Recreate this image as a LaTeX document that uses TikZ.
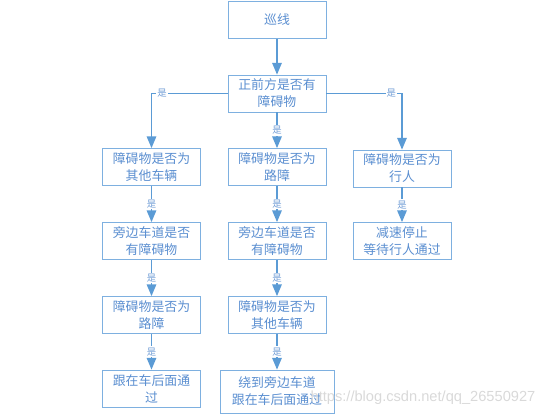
\documentclass[tikz,border=0pt]{standalone}
\usepackage{fontspec}
\newfontfamily\cjk{Noto Sans CJK SC}
\newfontfamily\marca{Liberation Sans}
\usetikzlibrary{arrows, positioning}
\definecolor{borde}{HTML}{7EB0E0}
\definecolor{letra}{HTML}{5A8ED0}
\definecolor{linea}{HTML}{5B9BD5}
\tikzstyle{paso} = [draw=borde, line width=0.8pt, rectangle, minimum width=2.94cm, minimum height=1.11cm, inner sep=2pt, text=letra, align=center, font=\cjk\fontsize{11}{14.5}\selectfont]
\tikzstyle{flecha} = [draw=linea, line width=1.3pt, -triangle 45]
\tikzstyle{si} = [fill=white, text=letra!85, inner sep=1pt, font=\cjk\fontsize{8}{9}\selectfont]

\begin{document}
\begin{tikzpicture}[x=0.03cm, y=-0.03cm]
	\useasboundingbox (0,0) rectangle (554,416);
	\node [paso] (xunxian) at (277,20) {巡线};
	\node [paso] (zhangai) at (277,93.5) {正前方是否有\\障碍物};
	\node [paso] (cheliang) at (151.5,167) {障碍物是否为\\其他车辆};
	\node [paso] (luzhang) at (277,167) {障碍物是否为\\路障};
	\node [paso] (xingren) at (402,168.5) {障碍物是否为\\行人};
	\node [paso] (pangbianA) at (151.5,241) {旁边车道是否\\有障碍物};
	\node [paso] (pangbianB) at (277,241) {旁边车道是否\\有障碍物};
	\node [paso] (tingzhi) at (402,241) {减速停止\\等待行人通过};
	\node [paso] (luzhangA) at (151.5,315) {障碍物是否为\\路障};
	\node [paso] (cheliangB) at (277,315) {障碍物是否为\\其他车辆};
	\node [paso] (genzhe) at (151.5,388.5) {跟在车后面通\\过};
	\node [paso, minimum width=3.42cm, minimum height=1.29cm] (raodao) at (277,391.5) {绕到旁边车道\\跟在车后面通过};
	\draw [flecha] (xunxian) -- (zhangai);
	\draw [flecha] (zhangai.west) -| node[si, pos=0.43] {是} (cheliang.north);
	\draw [flecha] (zhangai) -- node[si] {是} (luzhang);
	\draw [flecha] (zhangai.east) -| node[si, pos=0.43] {是} (xingren.north);
	\draw [flecha] (cheliang) -- node[si] {是} (pangbianA);
	\draw [flecha] (luzhang) -- node[si] {是} (pangbianB);
	\draw [flecha] (xingren) -- node[si] {是} (tingzhi);
	\draw [flecha] (pangbianA) -- node[si] {是} (luzhangA);
	\draw [flecha] (pangbianB) -- node[si] {是} (cheliangB);
	\draw [flecha] (luzhangA) -- node[si] {是} (genzhe);
	\draw [flecha] (cheliangB) -- node[si] {是} (raodao);
	\node [text=gray!30, font=\marca\fontsize{12.5}{13}\selectfont] (marca) at (423,398) {https://blog.csdn.net/qq\_26550927};
\end{tikzpicture}
\end{document}
